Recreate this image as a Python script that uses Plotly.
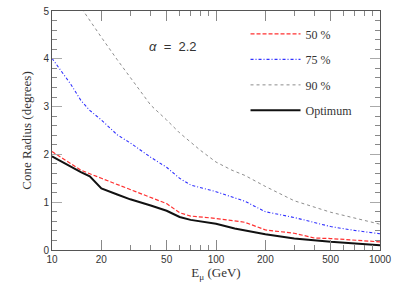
import plotly.graph_objects as go

E_opt = [10, 13, 15, 17, 18, 19, 20, 25, 30, 40, 50, 60, 70, 100, 130, 200, 300, 500, 1000]
R_opt = [1.96, 1.74, 1.63, 1.54, 1.45, 1.35, 1.29, 1.16, 1.06, 0.93, 0.82, 0.69, 0.63, 0.55, 0.45, 0.33, 0.24, 0.17, 0.10]

E_50 = [10, 15, 20, 30, 40, 50, 60, 70, 100, 150, 200, 300, 400, 500, 1000]
R_50 = [2.06, 1.67, 1.50, 1.26, 1.09, 0.97, 0.78, 0.71, 0.66, 0.58, 0.42, 0.35, 0.25, 0.24, 0.17]

E_75 = [10, 13, 15, 17, 20, 25, 30, 40, 50, 60, 70, 100, 150, 200, 300, 500, 700, 1000]
R_75 = [4.01, 3.47, 3.13, 2.92, 2.72, 2.41, 2.24, 1.94, 1.73, 1.50, 1.36, 1.22, 1.02, 0.80, 0.68, 0.49, 0.41, 0.34]

E_90 = [14.5, 15.5, 20, 25, 30, 40, 50, 60, 80, 100, 125, 150, 200, 300, 500, 700, 1000]
R_90 = [5.15, 5.0, 4.45, 3.98, 3.62, 3.03, 2.72, 2.45, 2.09, 1.84, 1.67, 1.56, 1.33, 1.03, 0.79, 0.67, 0.54]

x_tickvals = [10, 20, 50, 100, 200, 500, 1000]
x_ticktext = ["10", "20", "50", "100", "200", "500", "1000"]
x_minor = [30, 40, 60, 70, 80, 90, 300, 400, 600, 700, 800, 900]
y_tickvals = [0, 1, 2, 3, 4, 5]

serif = "Liberation Serif"
sans = "Liberation Sans"

fig = go.Figure()
fig.add_trace(go.Scatter(x=E_50, y=R_50, mode="lines", name="50 %", legendgroup="a",
                         line=dict(color="#ff3030", width=1.2, dash="4px,2px")))
fig.add_trace(go.Scatter(x=E_75, y=R_75, mode="lines", name="75 %", legendgroup="b",
                         line=dict(color="#3030ff", width=1.1, dash="3px,2px,1px,2px")))
fig.add_trace(go.Scatter(x=E_90, y=R_90, mode="lines", name="90 %", legendgroup="c",
                         line=dict(color="#808080", width=0.9, dash="3px,3px")))
fig.add_trace(go.Scatter(x=E_opt, y=R_opt, mode="lines", name="Optimum", legendgroup="d",
                         line=dict(color="#111111", width=2)))

fig.add_annotation(x=0.37, y=0.89, xref="paper", yref="paper", showarrow=False,
                   text="<i>α</i>  =  2.2", font=dict(family=sans, size=13, color="#333"))

fig.update_layout(
    width=397, height=284,
    margin=dict(l=52, r=14, t=5, b=34),
    paper_bgcolor="white", plot_bgcolor="white",
    showlegend=True,
    legend=dict(x=0.59, y=0.965, xanchor="left", yanchor="top", bgcolor="rgba(0,0,0,0)",
                font=dict(family=serif, size=12, color="#333"), tracegroupgap=6.5,
                itemwidth=50),
)
fig.update_xaxes(type="log", range=[1, 3], tickvals=x_tickvals, ticktext=x_ticktext,
                 ticks="inside", ticklen=10, tickcolor="#888", showgrid=False, zeroline=False,
                 showline=True, linecolor="#555", linewidth=1, mirror="allticks",
                 tickfont=dict(family=sans, size=10, color="#333"),
                 minor=dict(tickvals=x_minor, ticks="inside", ticklen=5, tickcolor="#888"),
                 title=dict(text="E<sub>μ</sub> (GeV)", font=dict(family=serif, size=13, color="#333"), standoff=3))
fig.update_yaxes(range=[0, 5], tickvals=y_tickvals, ticks="inside", ticklen=10, tickcolor="#aaa",
                 showgrid=False, zeroline=False, showline=True, linecolor="#555", linewidth=1,
                 mirror="allticks", tickfont=dict(family=sans, size=10, color="#333"),
                 minor=dict(dtick=0.2, ticks="inside", ticklen=5, tickcolor="#888"),
                 title=dict(text="Cone Radius (degrees)", font=dict(family=serif, size=13, color="#333"), standoff=8))

fig.write_html("out.html", config={"displayModeBar": False},
               post_script="document.body.style.margin='0';document.body.style.overflow='hidden';")
